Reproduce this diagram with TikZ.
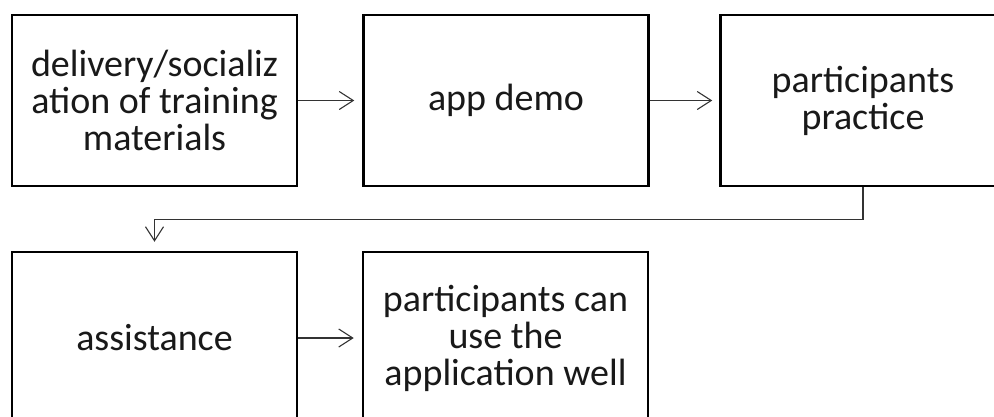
\documentclass[tikz,border=0pt]{standalone}
\usepackage{fontspec}
\setmainfont{Carlito}
\usetikzlibrary{arrows.meta}
\begin{document}
\begin{tikzpicture}[x=1pt,y=-1pt,
  box/.style={draw=black,line width=2.5pt,fill=white,align=center,inner sep=0pt,
    font=\fontsize{38}{37}\selectfont,text=black!90},
  topbox/.style={box,minimum width=285pt,minimum height=171pt},
  botbox/.style={box,minimum width=285pt,minimum height=172pt},
  conn/.style={draw=black!80,line width=1.1pt,-{Straight Barb[length=14pt,width=18pt,line width=1.1pt]}}]
\useasboundingbox (0,0) rectangle (994,416);
\clip (0,0) rectangle (994,416);
\node[topbox] (b1) at (154.5,100.5) {delivery/socializ\\ation of training\\materials};
\node[topbox] (b2) at (506,100.5) {app demo};
\node[topbox] (b3) at (863,100.5) {participants\\practice};
\node[botbox] (b4) at (154.5,338) {assistance};
\node[botbox] (b5) at (505.5,338) {participants can\\use the\\application well};
\draw[conn,shorten >=8pt] (b1.east) -- (b2.west);
\draw[conn,shorten >=7pt] (b2.east) -- (b3.west);
\draw[conn,shorten >=9pt] (b3.south) -- ++(0,32) -| (b4.north);
\draw[conn,shorten >=8pt] (b4.east) -- (b5.west);
\end{tikzpicture}
\end{document}
